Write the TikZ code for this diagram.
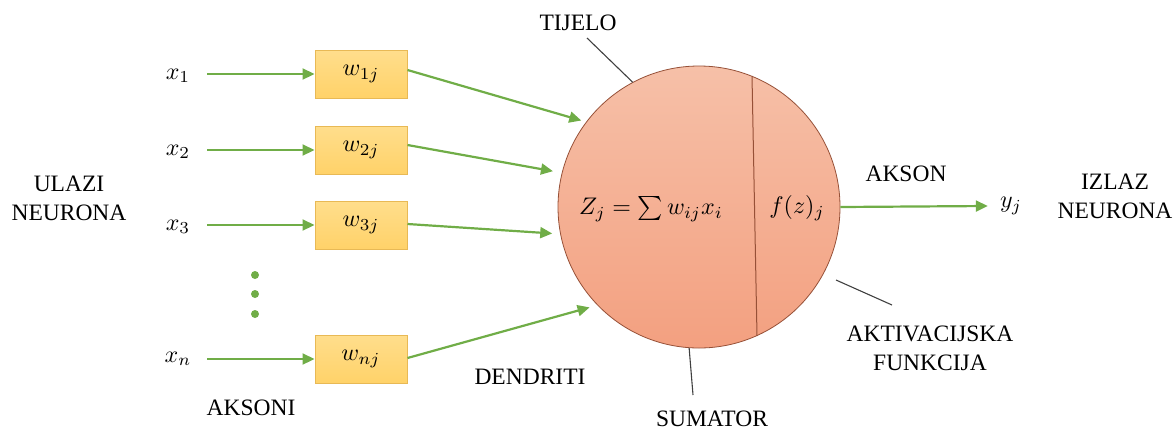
\documentclass[tikz,border=0pt]{standalone}
\usepackage{graphicx}
\usepackage{fontspec}
\setmainfont{Liberation Serif}
\newfontfamily\lserif{LiberationSerif-Regular.ttf}
\usetikzlibrary{arrows.meta}
\newcommand{\mth}[1]{\scalebox{2.4}{$#1$}}
\definecolor{arrowgreen}{RGB}{112,173,71}
\definecolor{boxfillA}{RGB}{255,222,140}
\definecolor{boxfillB}{RGB}{255,210,105}
\definecolor{boxborder}{RGB}{232,185,85}
\definecolor{bodytop}{RGB}{246,192,168}
\definecolor{bodybot}{RGB}{243,160,128}
\definecolor{bodyborder}{RGB}{150,80,55}
\definecolor{labelline}{RGB}{64,64,64}
\tikzset{
  wbox/.style={draw=boxborder, line width=1pt, top color=boxfillA, bottom color=boxfillB,
    minimum width=92pt, minimum height=48pt, inner sep=0pt},
  garrow/.style={draw=arrowgreen, line width=2.2pt, -{Triangle[length=12pt,width=11pt]}},
  mlabel/.style={inner sep=0pt},
  tlabel/.style={font=\lserif\fontsize{23.5}{29}\selectfont, align=center, inner sep=0pt},
  pointer/.style={draw=labelline, line width=1.1pt},
  gdot/.style={circle, fill=arrowgreen, minimum size=8pt, inner sep=0pt}
}
\begin{document}
\begin{tikzpicture}[x=1pt,y=-1pt]
\useasboundingbox (0,0) rectangle (1175,432);
% body
\node[circle, minimum size=282pt, inner sep=0pt, draw=bodyborder, line width=0.8pt,
  top color=bodytop, bottom color=bodybot] (body) at (699,207) {};
\coordinate (dtop) at (752,76);
\coordinate (dbot) at (757,336);
\draw[bodyborder, line width=1pt] (dtop) -- (dbot);
\node[mlabel] (zsum) at (651,209) {\mth{Z_j = \textstyle\sum w_{ij}x_i}};
\node[mlabel] (fz) at (797,208) {\mth{f(z)_j}};
% inputs
\node[mlabel] (x1) at (178,76) {\mth{x_1}};
\node[mlabel] (x2) at (178,152) {\mth{x_2}};
\node[mlabel] (x3) at (178,227) {\mth{x_3}};
\node[mlabel] (xn) at (178,359) {\mth{x_n}};
\node[wbox] (w1) at (361,74) {\mth{w_{1j}}};
\node[wbox] (w2) at (361,150) {\mth{w_{2j}}};
\node[wbox] (w3) at (361,225) {\mth{w_{3j}}};
\node[wbox] (wn) at (361,359) {\mth{w_{nj}}};
\draw[garrow] ([xshift=207pt]w1.west -| 0,0) -- (w1.west);
\draw[garrow] ([xshift=207pt]w2.west -| 0,0) -- (w2.west);
\draw[garrow] ([xshift=207pt]w3.west -| 0,0) -- (w3.west);
\draw[garrow] ([xshift=207pt]wn.west -| 0,0) -- (wn.west);
\node[gdot] (d1) at (255,275) {};
\node[gdot] (d2) at (255,294) {};
\node[gdot] (d3) at (255,314) {};
% dendrites
\draw[garrow, shorten >=5pt] ([yshift=4pt]w1.east) -- (body.143);
\draw[garrow, shorten >=9pt] ([yshift=5pt]w2.east) -- (body.166);
\draw[garrow, shorten >=8pt] ([yshift=1pt]w3.east) -- (body.191);
\draw[garrow, shorten >=8pt] ([yshift=1pt]wn.east) -- (body.224);
% output
\node[mlabel] (yj) at (1011,206) {\mth{y_j}};
\draw[garrow] (body.east) -- ([xshift=-12pt]yj.west);
% labels
\node[tlabel] (ulazi) at (69,198) {ULAZI\\NEURONA};
\node[tlabel] (izlaz) at (1115,196) {IZLAZ\\NEURONA};
\node[tlabel] (akson) at (906,174) {AKSON};
\node[tlabel] (aksoni) at (251,408) {AKSONI};
\node[tlabel] (dendriti) at (530,377) {DENDRITI};
\node[tlabel] (tijelo) at (578,23) {TIJELO};
\node[tlabel] (sumator) at (712,419) {SUMATOR};
\node[tlabel] (aktiv) at (930,348) {AKTIVACIJSKA\\FUNKCIJA};
\coordinate (ptij) at (587,38);
\coordinate (psum) at (693,395);
\coordinate (pakt1) at (836,280);
\coordinate (pakt2) at (892,305);
\draw[pointer] (ptij) -- (body.118);
\draw[pointer] (body.266) -- (psum);
\draw[pointer] (pakt1) -- (pakt2);
\end{tikzpicture}
\end{document}
